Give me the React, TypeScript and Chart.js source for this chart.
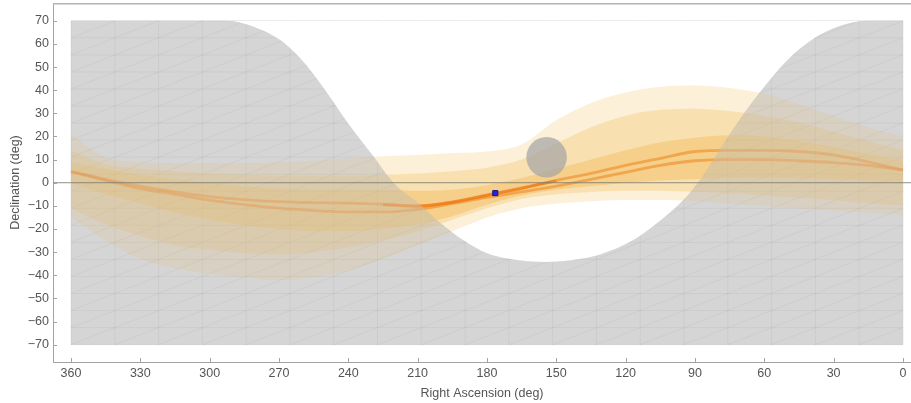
import React, { useEffect, useRef } from "react";
import { Chart, registerables } from "chart.js";

Chart.register(...registerables);

// Axis extents and ticks
const X_MIN = -3.5;
const X_MAX = 367.8;
const Y_MIN = -77.5;
const Y_MAX = 77.7;
const X_TICKS = [360, 330, 300, 270, 240, 210, 180, 150, 120, 90, 60, 30, 0];
const Y_TICKS = [-70, -60, -50, -40, -30, -20, -10, 0, 10, 20, 30, 40, 50, 60, 70];

// Sky region (gray) extents
const SKY_RA = [360, 0];
const SKY_TOP = [70, 70];
const SKY_BOTTOM = -70;

// Mesh of the gray region
const MESH_RA = [360, 341.05, 322.11, 303.16, 284.21, 265.26, 246.32, 227.37, 208.42, 189.47, 170.53, 151.58, 132.63, 113.68, 94.74, 75.79, 56.84, 37.89, 18.95, 0];
const MESH_DEC = [-70, -62.63, -55.26, -47.89, -40.53, -33.16, -25.79, -18.42, -11.05, -3.68, 3.68, 11.05, 18.42, 25.79, 33.16, 40.53, 47.89, 55.26, 62.63, 70];

// Visible (white) window boundary
const HOLE_RA = [360, 292.5, 280, 270, 261, 250, 240, 230, 220, 210, 200, 190, 180, 170, 155, 140, 131, 117, 107, 95, 88, 82, 75, 62, 50, 39, 28, 15.6, 0];
const HOLE_DEC = [70, 70, 67, 62, 54, 40, 25.5, 12.5, -0.5, -8.5, -17.5, -25, -30.5, -33, -34.3, -33, -31, -25, -18, -7.5, 1, 10, 21, 39, 53, 62, 67.5, 70, 70];

// Track ensemble (right ascension grid)
const RA = [360, 345, 330, 315, 300, 285, 270, 255, 240, 225, 210, 195, 180, 165, 150, 135, 120, 105, 90, 75, 60, 45, 30, 15, 0];
const OUTER_HI = [21, 11, 9, 8.5, 8.5, 8.5, 9, 9.5, 10.5, 11.5, 12, 12.8, 13.5, 16.5, 27, 34.5, 39, 41.5, 42, 41, 38.5, 34, 29, 24, 20];
const OUTER_LO = [-15, -25, -33, -37, -39.5, -41, -42, -41, -38, -33, -27, -21, -15, -11, -9, -8, -7.5, -7.5, -8, -9, -10, -11, -12, -13, -14];
const MID_HI = [14, 8, 6, 5, 4, 3.5, 3, 3, 3, 3.5, 4, 5, 6.5, 10, 17, 24, 29, 31.5, 32, 31, 29, 26, 22, 18, 14];
const MID_LO = [-11, -18, -23, -27, -29, -30.5, -31, -30, -28, -25, -21, -16, -11, -7, -5, -4, -3.5, -3.5, -4, -4.5, -5.5, -6.5, -7.5, -9, -10];
const INNER_HI = [9, 6, 3.5, 1.5, 0, -1.5, -2.5, -3, -3, -3, -3.5, -3, -1, 2, 6, 10, 14, 17.5, 19.5, 20.5, 20, 18, 15.5, 12.5, 9.5];
const INNER_LO = [0, -5, -9, -13, -16, -18.5, -20, -21, -21, -20, -18, -14.5, -9.5, -5.5, -3, -1.5, 0, 1, 1.5, 2, 2, 2, 1.5, 1, 0.5];
const LINE_U = [4.8, 1.5, -1.5, -4, -6, -7.3, -8.2, -8.6, -8.8, -9.3, -10, -8.5, -5.5, -2.5, 1, 4, 7.5, 10.5, 13.5, 14, 14, 13.5, 12, 9, 5.5];
const LINE_L = [4.8, 1, -2.5, -5, -7.5, -9.5, -11, -12, -12.6, -12.6, -11.5, -9, -6.3, -4, -1.5, 1.5, 4.5, 7.5, 9.5, 10, 10, 9.5, 8.7, 7.5, 5.5];
// Brightest converging stretch of the tracks
const CORE_RA = [225, 210, 195, 180, 165, 150];
const CORE_DEC = [-9.5, -10.2, -8.3, -5.3, -2.3, 0.8];

// Markers
const SUN_RA = [154.2];
const SUN_DEC = [11];
const TARGET_RA = [176.4];
const TARGET_DEC = [-4.5];

const pts = (xs: number[], ys: number[]) => xs.map((x, i) => ({ x, y: ys[i] }));

function buildMesh() {
  const out: { x: number; y: number | null }[] = [];
  const brk = (x: number) => out.push({ x, y: null });
  MESH_RA.forEach((ra) => {
    out.push({ x: ra, y: MESH_DEC[0] });
    out.push({ x: ra, y: MESH_DEC[MESH_DEC.length - 1] });
    brk(ra);
  });
  MESH_DEC.forEach((d) => {
    out.push({ x: MESH_RA[0], y: d });
    out.push({ x: MESH_RA[MESH_RA.length - 1], y: d });
    brk(0);
  });
  const n = MESH_RA.length;
  for (let k = -(n - 2); k <= n - 2; k++) {
    const line: { x: number; y: number }[] = [];
    for (let i = 0; i < n; i++) {
      const j = i + k;
      if (j >= 0 && j < MESH_DEC.length) line.push({ x: MESH_RA[i], y: MESH_DEC[j] });
    }
    if (line.length >= 2) {
      out.push(line[0]);
      out.push(line[line.length - 1]);
      brk(0);
    }
  }
  return out;
}

const FONT = "'Liberation Sans', Arial, sans-serif";
const FONT_SIZE = 12.5;
const TEXT = "#555555";
const AXIS = "#a3a3a3";

const frameAndTicks = {
  id: "frameAndTicks",
  afterDatasetsDraw(chart: any) {
    const { ctx, chartArea, scales } = chart;
    ctx.save();
    ctx.strokeStyle = "#b3b3b3";
    ctx.lineWidth = 1.5;
    ctx.beginPath();
    ctx.moveTo(chartArea.left, chartArea.top + 0.75);
    ctx.lineTo(chartArea.right, chartArea.top + 0.75);
    ctx.stroke();
    ctx.strokeStyle = AXIS;
    ctx.lineWidth = 1;
    X_TICKS.forEach((v) => {
      const px = Math.round(scales.x.getPixelForValue(v)) + 0.5;
      ctx.beginPath();
      ctx.moveTo(px, chartArea.bottom);
      ctx.lineTo(px, chartArea.bottom - 4);
      ctx.stroke();
    });
    Y_TICKS.forEach((v) => {
      const py = Math.round(scales.y.getPixelForValue(v)) + 0.5;
      ctx.beginPath();
      ctx.moveTo(chartArea.left, py);
      ctx.lineTo(chartArea.left + 4, py);
      ctx.stroke();
    });
    ctx.restore();
  },
};

export default function App() {
  const ref = useRef<HTMLCanvasElement | null>(null);

  useEffect(() => {
    if (!ref.current) return;
    const fillOnly = { borderColor: "transparent", borderWidth: 0, pointRadius: 0, showLine: true, tension: 0.4, cubicInterpolationMode: "monotone" as const };
    const band = "rgba(240,170,40,";
    const lineStyle = { showLine: true, pointRadius: 0, borderColor: "rgba(236,112,0,0.45)", borderWidth: 2.8, fill: false, tension: 0.4, cubicInterpolationMode: "monotone" };
    const datasets: any[] = [
      { ...fillOnly, tension: 0, data: pts(SKY_RA, SKY_TOP), fill: { value: SKY_BOTTOM }, backgroundColor: "#d6d6d6" },
      { data: buildMesh(), showLine: true, pointRadius: 0, borderColor: "rgba(140,140,140,0.26)", borderWidth: 0.8, fill: false, tension: 0, spanGaps: false },
      { ...fillOnly, data: pts(HOLE_RA, HOLE_DEC), fill: { value: 70 }, backgroundColor: "#ffffff" },
      { ...fillOnly, data: pts(RA, OUTER_HI), fill: "+1", backgroundColor: band + "0.18)" },
      { ...fillOnly, data: pts(RA, OUTER_LO), fill: false },
      { ...fillOnly, data: pts(RA, MID_HI), fill: "+1", backgroundColor: band + "0.22)" },
      { ...fillOnly, data: pts(RA, MID_LO), fill: false },
      { ...fillOnly, data: pts(RA, INNER_HI), fill: "+1", backgroundColor: band + "0.28)" },
      { ...fillOnly, data: pts(RA, INNER_LO), fill: false },
      { ...lineStyle, data: pts(RA, LINE_L) },
      { ...lineStyle, data: pts(RA, LINE_U) },
      { ...lineStyle, borderColor: "rgba(240,105,0,0.5)", borderWidth: 3, data: pts(CORE_RA, CORE_DEC) },
      { ...fillOnly, data: pts(HOLE_RA, HOLE_DEC), fill: { value: SKY_BOTTOM }, backgroundColor: "rgba(214,214,214,0.38)" },
      { data: [{ x: X_MAX, y: 0 }, { x: X_MIN, y: 0 }], showLine: true, pointRadius: 0, borderColor: "rgba(125,125,110,0.85)", borderWidth: 1, fill: false },
      { data: pts(SUN_RA, SUN_DEC), showLine: false, pointRadius: 20.3, backgroundColor: "rgba(165,165,165,0.72)", borderWidth: 0, borderColor: "transparent" },
      { data: pts(TARGET_RA, TARGET_DEC), showLine: false, pointStyle: "rect", pointRadius: 3.6, backgroundColor: "#2323ee", borderColor: "#13137a", borderWidth: 1 },
    ];
    datasets.forEach((d, i) => (d.order = 100 - i));

    const chart = new Chart(ref.current, {
      type: "scatter",
      data: { datasets },
      plugins: [frameAndTicks],
      options: {
        responsive: false,
        animation: false,
        events: [],
        layout: { autoPadding: false, padding: { top: 3, right: 0, left: 0, bottom: 0 } },
        plugins: { legend: { display: false }, tooltip: { enabled: false }, title: { display: false } },
        scales: {
          x: {
            type: "linear",
            position: "bottom",
            min: X_MIN,
            max: X_MAX,
            reverse: true,
            grid: { display: false, drawTicks: false },
            border: { display: true, color: AXIS, width: 1 },
            afterBuildTicks: (s: any) => { s.ticks = X_TICKS.map((v) => ({ value: v })); },
            afterFit: (s: any) => { s.height = 41; s.paddingLeft = 0; s.paddingRight = 0; },
            ticks: { padding: 4, color: TEXT, font: { family: FONT, size: FONT_SIZE }, maxRotation: 0, autoSkip: false, callback: (v: any) => String(v) },
            title: { display: true, text: "Right Ascension (deg)", color: TEXT, font: { family: FONT, size: FONT_SIZE }, padding: { top: 0, bottom: 2 } },
          },
          y: {
            type: "linear",
            min: Y_MIN,
            max: Y_MAX,
            grid: { display: false, drawTicks: false },
            border: { display: true, color: AXIS, width: 1 },
            afterBuildTicks: (s: any) => { s.ticks = Y_TICKS.map((v) => ({ value: v })); },
            afterFit: (s: any) => { s.width = 53; s.paddingTop = 0; s.paddingBottom = 0; },
            ticks: { padding: 4, color: TEXT, font: { family: FONT, size: FONT_SIZE }, autoSkip: false, callback: (v: any) => (v < 0 ? "\u2212" + String(Math.abs(v)) : String(v)) },
            title: { display: true, text: "Declination (deg)", color: TEXT, font: { family: FONT, size: FONT_SIZE }, padding: { top: 8, bottom: 0 } },
          },
        },
      } as any,
    });
    return () => chart.destroy();
  }, []);

  return (
    <div style={{ position: "fixed", left: 0, top: 0, width: 911, height: 403, background: "#fff" }}>
      <canvas ref={ref} width={911} height={403} style={{ display: "block", width: 911, height: 403 }} />
    </div>
  );
}
